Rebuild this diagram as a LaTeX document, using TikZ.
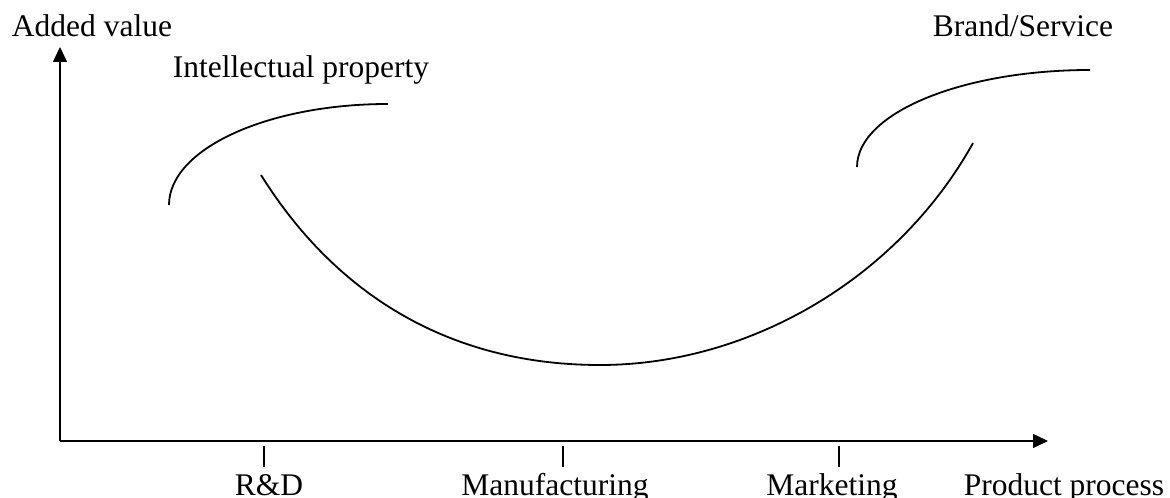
\documentclass[tikz,border=0pt]{standalone}
\usepackage{fontspec}
\setmainfont{Liberation Serif}
\usepackage{xcolor}
\usetikzlibrary{arrows.meta,positioning}
\definecolor{ink}{HTML}{000000}
\tikzset{
  axis/.style={-{Triangle[length=7.5pt,width=7pt]},line width=0.75pt,draw=ink},
  curve/.style={line width=0.9pt,draw=ink},
  tick/.style={line width=0.75pt,draw=ink},
  lbl/.style={anchor=base,inner sep=0pt,font=\fontsize{15.75}{18}\selectfont,text=ink}
}

\begin{document}
\begin{tikzpicture}[x=0.5pt,y=0.5pt]
  \useasboundingbox (0,0) rectangle (1170,497);
  % axes
  \coordinate (o) at (60,56);
  \coordinate (ytip) at (60,450);
  \coordinate (xtip) at (1048,56);
  \draw[axis] (o) -- (ytip);
  \draw[axis] (o) -- (xtip);
  \node[lbl] (yl) at (92,460) {Added value};
  % stages along the process axis
  \foreach \x/\n in {264/rd,563/mf,839/mk}{
    \coordinate (\n a) at (\x,51);
    \coordinate (\n b) at (\x,30);
    \draw[tick] (\n a) -- (\n b);
  }
  \node[lbl] (rd) at (269,2) {R\&D};
  \node[lbl] (mf) at (555,2) {Manufacturing};
  \node[lbl] (mk) at (832,2) {Marketing};
  \node[lbl] (xl) at (1064,2) {Product process};
  % the smile curve
  \coordinate (s0) at (261,322);
  \coordinate (s1) at (600,132);
  \coordinate (s2) at (973,354);
  \draw[curve] (s0) .. controls (336,202) and (450,132) .. (s1)
                    .. controls (750,132) and (898,219) .. (s2);
  % high-value ends
  \draw[curve] (169,292) arc[start angle=180,end angle=90,x radius=219,y radius=101];
  \node[lbl] (ip) at (301,419) {Intellectual property};
  \draw[curve] (857,330) arc[start angle=180,end angle=90,x radius=233,y radius=97];
  \node[lbl] (bs) at (1023,460) {Brand/Service};
\end{tikzpicture}
\end{document}
